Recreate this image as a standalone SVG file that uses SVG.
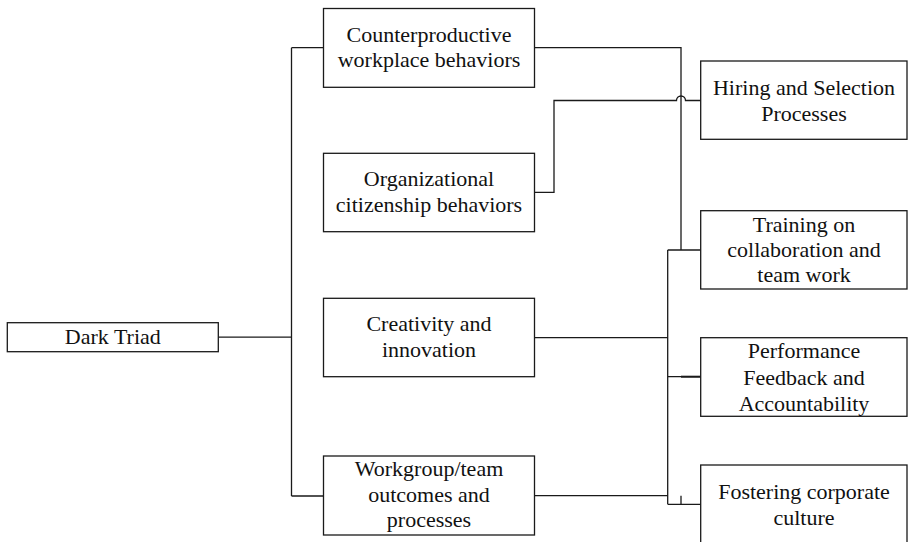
<svg xmlns="http://www.w3.org/2000/svg" width="908" height="542" viewBox="0 0 908 542">
<style>
.box{fill:#fff;stroke:#1a1a1a;stroke-width:1.3}
.lbl{font-family:'Liberation Serif','Times New Roman',serif;font-size:22px;fill:#111;text-anchor:middle}
.con{fill:none;stroke:#1a1a1a;stroke-width:1.3}
</style>
<rect width="908" height="542" fill="#fff"/>
<g id="connectors">
<path class="con" d="M218.3,337.2 H291.5"/>
<path class="con" d="M291.5,47.7 V496 M291.5,47.7 H323.5 M291.5,496 H323.5"/>
<path class="con" d="M534.5,47.7 H681 V250"/>
<path class="con" d="M534.5,192.3 H554 V100.5 H676.5 A4.5,4.5 0 0 1 685.5,100.5 H700.7"/>
<path class="con" d="M667.7,250 V504.3 M667.7,250 H700.7 M534.5,337.7 H667.7 M667.7,376.7 H700.7 M534.5,495.7 H667.7 M667.7,504.3 H700.7"/>
<path class="con" d="M681,376.7 H700.7" style="stroke-width:2"/>
<path class="con" d="M681,495.7 V504.3"/>
</g>
<g id="dark-triad">
<rect class="box" x="7.3" y="322.7" width="211" height="29"/>
<text class="lbl" x="112.8" y="344.2">Dark Triad</text>
</g>
<g id="cwb">
<rect class="box" x="323.5" y="8.5" width="211" height="78.8"/>
<text class="lbl" x="429" y="41.5">Counterproductive</text>
<text class="lbl" x="429" y="67">workplace behaviors</text>
</g>
<g id="ocb">
<rect class="box" x="323.5" y="153.3" width="211" height="78.4"/>
<text class="lbl" x="429" y="185.5">Organizational</text>
<text class="lbl" x="429" y="211.5">citizenship behaviors</text>
</g>
<g id="creativity">
<rect class="box" x="323.5" y="298.3" width="211" height="78.4"/>
<text class="lbl" x="429" y="330.5">Creativity and</text>
<text class="lbl" x="429" y="356.5">innovation</text>
</g>
<g id="workgroup">
<rect class="box" x="323.5" y="456" width="211" height="79"/>
<text class="lbl" x="429" y="475.5">Workgroup/team</text>
<text class="lbl" x="429" y="501.5">outcomes and</text>
<text class="lbl" x="429" y="527">processes</text>
</g>
<g id="hiring">
<rect class="box" x="700.7" y="61" width="206.3" height="78.3"/>
<text class="lbl" x="804" y="94.5">Hiring and Selection</text>
<text class="lbl" x="804" y="121">Processes</text>
</g>
<g id="training">
<rect class="box" x="700.7" y="210.7" width="206.3" height="78.3"/>
<text class="lbl" x="804" y="231.7">Training on</text>
<text class="lbl" x="804" y="256.7">collaboration and</text>
<text class="lbl" x="804" y="281.7">team work</text>
</g>
<g id="performance">
<rect class="box" x="700.7" y="337.7" width="206.3" height="78.6"/>
<text class="lbl" x="804" y="357.7">Performance</text>
<text class="lbl" x="804" y="384.5">Feedback and</text>
<text class="lbl" x="804" y="411">Accountability</text>
</g>
<g id="fostering">
<rect class="box" x="700.7" y="465" width="206.3" height="79"/>
<text class="lbl" x="804" y="499.3">Fostering corporate</text>
<text class="lbl" x="804" y="525">culture</text>
</g>
</svg>
